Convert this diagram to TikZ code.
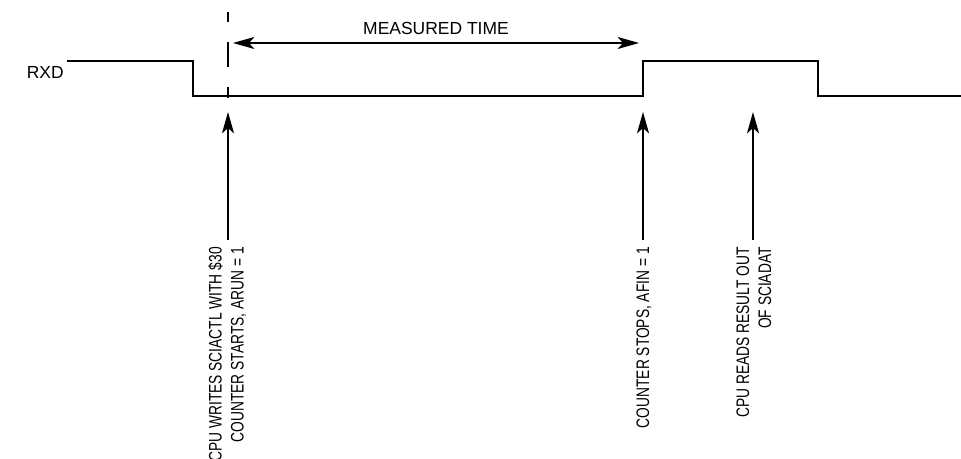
\documentclass[tikz,border=0pt]{standalone}
\usepackage{fontspec}
\setmainfont{Liberation Sans}
\newfontfamily\narrowsans[FakeStretch=0.76]{Liberation Sans}
\usetikzlibrary{arrows.meta}

\begin{document}
\begin{tikzpicture}[
    x=0.75pt, y=-0.75pt,
    signal/.style={line width=1.6pt, line join=miter},
    marker/.style={line width=0.9pt, dash pattern=on 18.75pt off 15pt, dash phase=11.25pt},
    uparrow/.style={line width=1.5pt, -{Stealth[length=16pt, width=9pt, inset=4pt]}},
    span/.style={line width=1.5pt, {Stealth[length=16pt, width=9pt, inset=4pt]}-{Stealth[length=16pt, width=9pt, inset=4pt]}},
    txt/.style={inner sep=0pt, font=\fontsize{13.1}{16.5}\selectfont},
    note/.style={inner sep=0pt, font=\narrowsans\fontsize{13.6}{16.5}\selectfont,
                 rotate=90, anchor=east, align=right}
]
    \useasboundingbox (0,0) rectangle (961,459);

    % Signal
    \node[txt, anchor=east] (rxd) at (64,72) {RXD};
    \draw[signal] (67,61) -- (193,61) -- (193,96) -- (643,96) -- (643,61)
        -- (818,61) -- (818,96) -- (961,96);

    % Start marker
    \coordinate (marktop) at (228,12);
    \coordinate (markbot) at (228,98);
    \draw[marker] (marktop) -- (markbot);

    % Measured time
    \coordinate (mstart) at (233,43);
    \coordinate (mend) at (639,43);
    \draw[span] (mstart) -- (mend);
    \node[txt] (mlabel) at (436,28) {MEASURED TIME};

    % Events
    \coordinate (tipstart) at (228,112);
    \coordinate (footstart) at (228,240);
    \coordinate (tipstop) at (643,112);
    \coordinate (footstop) at (643,240);
    \coordinate (tipread) at (753,112);
    \coordinate (footread) at (753,240);
    \draw[uparrow] (footstart) -- (tipstart);
    \draw[uparrow] (footstop) -- (tipstop);
    \draw[uparrow] (footread) -- (tipread);

    \node[note] (lblstart) at (227,247) {CPU WRITES SCIACTL WITH \$30\\COUNTER STARTS, ARUN = 1};
    \node[note] (lblstop) at (644,247) {COUNTER STOPS, AFIN = 1};
    \node[note] (lblread) at (754,247) {CPU READS RESULT OUT\\OF SCIADAT};
\end{tikzpicture}
\end{document}
